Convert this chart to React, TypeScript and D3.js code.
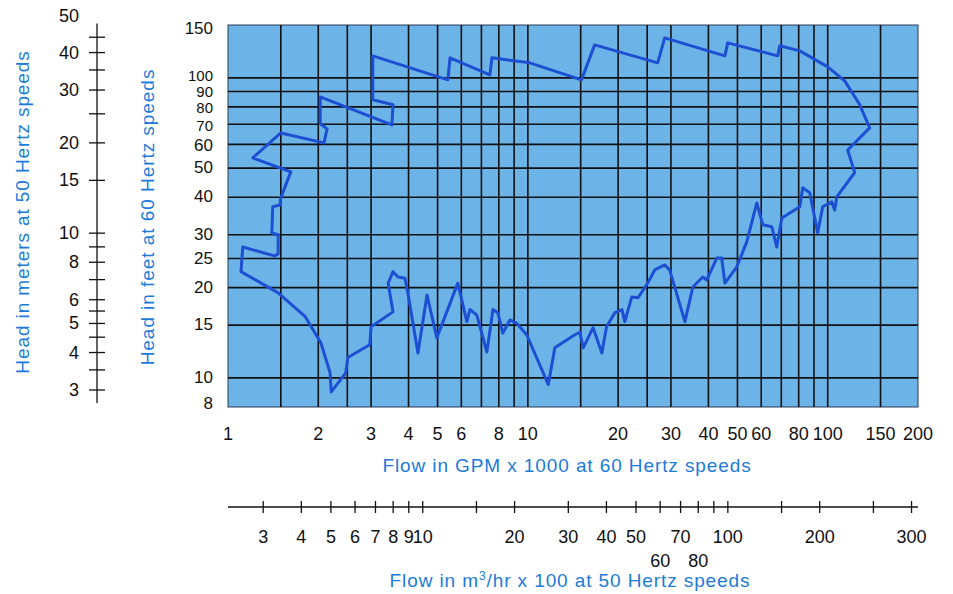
import * as d3 from 'd3';

// flow in GPM x 1000 (60 Hz) and head in feet (60 Hz)
const gpmLabels = [1, 2, 3, 4, 5, 6, 8, 10, 20, 30, 40, 50, 60, 80, 100, 150, 200];
const gpmGrid = [1.5, 2, 2.5, 3, 4, 5, 6, 7, 8, 9, 10, 15, 20, 25, 30, 40, 50, 60, 70, 80, 90, 100, 150];
const feetLabels = [150, 100, 90, 80, 70, 60, 50, 40, 30, 25, 20, 15, 10, 8];
const feetGrid = [10, 15, 20, 25, 30, 40, 50, 60, 70, 80, 90, 100];

// head in meters (50 Hz)
const meterTicks = [3, 3.5, 4, 4.5, 5, 5.5, 6, 7, 8, 9, 10, 15, 20, 25, 30, 35, 40, 45];
const meterLabels = [3, 4, 5, 6, 8, 10, 15, 20, 30, 40, 50];

// flow in m3/hr x 100 (50 Hz)
const m3Ticks = [3, 4, 5, 6, 7, 8, 9, 10, 15, 20, 30, 40, 50, 60, 70, 80, 90, 100, 150, 200, 300, 400];
const m3LabelAt = [3, 4, 5, 6, 7, 8, 9, 10, 20, 30, 40, 50, 60, 70, 80, 100, 200, 400];
const m3LabelText = ['3', '4', '5', '6', '7', '8', '9', '10', '20', '30', '40', '50', '60', '70', '80', '100', '200', '300'];
const m3LabelRow = [0, 0, 0, 0, 0, 0, 0, 0, 0, 0, 0, 0, 1, 0, 1, 0, 0, 0];

// operating envelope outline, traced clockwise
const envelopeFlow = [
  1.105, 1.12, 1.43, 1.47, 1.47, 1.4, 1.41, 1.49, 1.5, 1.62, 1.49, 1.21, 1.5, 2.09, 2.14, 2.03, 2.03,
  3.52, 3.55, 3.04, 3.04, 5.41, 5.5, 7.47, 7.59, 10.15, 15.1, 16.7, 27.1, 28.6, 45.4, 46.4, 68.1, 69.2,
  80.7, 100, 113.9, 127.9, 138, 116.6, 123, 107.2, 105.5, 103.1, 96.2, 92.6, 87.1, 82.5, 80.7, 70.3,
  67.6, 65.1, 60.7, 58, 53.7, 49.7, 45.4, 44.3, 42.7, 39.5, 38.3, 35.5, 33.4, 29.7, 28.6, 26.5, 25.1,
  23.3, 22.2, 21.05, 20.6, 19.5, 18.3, 17.65, 16.5, 15.3, 14.9, 14.3, 12.3, 11.7, 9.92, 9.19, 8.71,
  8.25, 7.94, 7.65, 7.3, 6.76, 6.41, 6.26, 5.84, 4.97, 4.61, 4.3, 3.98, 3.89, 3.69, 3.55, 3.42, 3.55,
  3.0, 2.97, 2.51, 2.47, 2.21, 2.19, 2.04, 1.81, 1.47,
];
const envelopeHead = [
  22.6, 27.3, 25.5, 25.9, 30, 30.4, 37.2, 37.7, 39.8, 48.6, 50.1, 54.1, 65.5, 60.7, 67.6, 70.3, 86.4,
  69.7, 81.3, 84.5, 118.4, 98.5, 116.6, 102.3, 116.6, 112.2, 98.5, 128.8, 112.2, 135.9, 118.4, 130.8, 118.4, 127.9,
  123, 108.8, 97.7, 81.3, 68.1, 57.5, 48.3, 40.1, 36.3, 38.6, 37.2, 30.4, 41.4, 43, 37.2, 34.1,
  27.3, 31.9, 32.4, 38.3, 28.4, 23.4, 20.7, 25.1, 25.1, 21.2, 21.7, 20.1, 15.4, 22.9, 23.8, 22.9, 20.7,
  18.5, 18.6, 15.4, 16.9, 16.5, 14.8, 12.1, 14.7, 12.6, 14.2, 13.9, 12.6, 9.5, 13.9, 15.2, 15.6,
  14.1, 16.5, 16.9, 12.2, 16.2, 16.9, 15.4, 20.7, 13.6, 18.9, 12.1, 19.2, 21.5, 21.7, 22.6, 20.7, 16.6,
  14.8, 12.9, 11.7, 10.4, 8.98, 10.4, 13.1, 16.0, 19.2,
];

const W = 953;
const H = 594;
const font = '"Liberation Sans", Arial, Helvetica, sans-serif';
const ink = '#111';
const titleBlue = '#1c7bd8';

// small nudges so the tightly packed feet labels don't collide
const feetNudge: Record<number, number> = { 150: 9, 100: 3, 90: 5, 80: 6, 70: 7, 60: 7, 8: 2 };

export default function App() {
  const x = d3.scaleLog().domain([1, 200]).range([228, 918]);
  const y = d3.scaleLog().domain([8, 150]).range([407, 25]);
  const yM = d3.scaleLog().domain([3, 50]).range([390, 23.5]);
  const xM = d3.scaleLog().domain([2.3, 420]).range([228, 918]);

  const pts = envelopeFlow.map((f, i) => [f, envelopeHead[i]] as [number, number]);
  const outline = d3
    .line<[number, number]>()
    .x((d) => x(d[0]))
    .y((d) => y(d[1]))
    .curve(d3.curveLinearClosed)(pts);

  const [x0, x1] = x.range();
  const [y0, y1] = y.range();
  const axisX = 97;

  return (
    <svg
      width={W}
      height={H}
      style={{ position: 'absolute', left: 0, top: 0, background: '#fff' }}
      fontFamily={font}
    >
      {/* plot panel */}
      <rect x={x0} y={y1} width={x1 - x0} height={y0 - y1} fill="#6cb4e8" stroke="#2a3a55" strokeWidth={1} />
      {gpmGrid.map((v) => (
        <line key={'gx' + v} x1={x(v)} x2={x(v)} y1={y1} y2={y0} stroke={ink} strokeWidth={1.6} />
      ))}
      {feetGrid.map((v) => (
        <line key={'gy' + v} x1={x0} x2={x1} y1={y(v)} y2={y(v)} stroke={ink} strokeWidth={1.6} />
      ))}
      <path d={outline ?? ''} fill="none" stroke="#1d4fd2" strokeWidth={3} strokeLinejoin="round" />

      {/* feet axis labels */}
      {feetLabels.map((v) => (
        <text key={'fl' + v} x={213} y={y(v) + (feetNudge[v] ?? 5)} textAnchor="end" fontSize={v >= 70 && v <= 100 ? 15 : 17} fill={ink}>
          {v}
        </text>
      ))}

      {/* GPM axis labels */}
      {gpmLabels.map((v) => (
        <text key={'xl' + v} x={x(v)} y={440} textAnchor="middle" fontSize={18} fill={ink}>
          {v}
        </text>
      ))}

      {/* meters axis */}
      <line x1={axisX} x2={axisX} y1={yM(50)} y2={403} stroke={ink} strokeWidth={1.3} />
      {meterTicks.map((v) => (
        <line key={'mt' + v} x1={axisX - 8} x2={axisX + 8} y1={yM(v)} y2={yM(v)} stroke={ink} strokeWidth={1.3} />
      ))}
      {meterLabels.map((v) => (
        <text key={'ml' + v} x={79} y={yM(v) + (v === 50 ? -2 : 6)} textAnchor="end" fontSize={18} fill={ink}>
          {v}
        </text>
      ))}

      {/* m3/hr axis */}
      <line x1={xM.range()[0]} x2={xM.range()[1]} y1={507} y2={507} stroke={ink} strokeWidth={1.3} />
      {m3Ticks.map((v) => (
        <line key={'m3t' + v} x1={xM(v)} x2={xM(v)} y1={501} y2={513} stroke={ink} strokeWidth={1.3} />
      ))}
      {m3LabelAt.map((v, i) => (
        <text key={'m3l' + i} x={xM(v)} y={m3LabelRow[i] ? 567 : 543} textAnchor="middle" fontSize={18} fill={ink}>
          {m3LabelText[i]}
        </text>
      ))}

      {/* titles */}
      <text transform="translate(29,212) rotate(-90)" textAnchor="middle" fontSize={19} letterSpacing={0.9} fill={titleBlue}>
        Head in meters at 50 Hertz speeds
      </text>
      <text transform="translate(154,217) rotate(-90)" textAnchor="middle" fontSize={19} letterSpacing={0.95} fill={titleBlue}>
        Head in feet at 60 Hertz speeds
      </text>
      <text x={567} y={472} textAnchor="middle" fontSize={19} letterSpacing={0.9} fill={titleBlue}>
        Flow in GPM x 1000 at 60 Hertz speeds
      </text>
      <text x={570} y={587} textAnchor="middle" fontSize={19} letterSpacing={0.9} fill={titleBlue}>
        Flow in m<tspan fontSize={12} dy={-7}>3</tspan>
        <tspan dy={7}>/hr x 100  at 50 Hertz speeds</tspan>
      </text>
    </svg>
  );
}
